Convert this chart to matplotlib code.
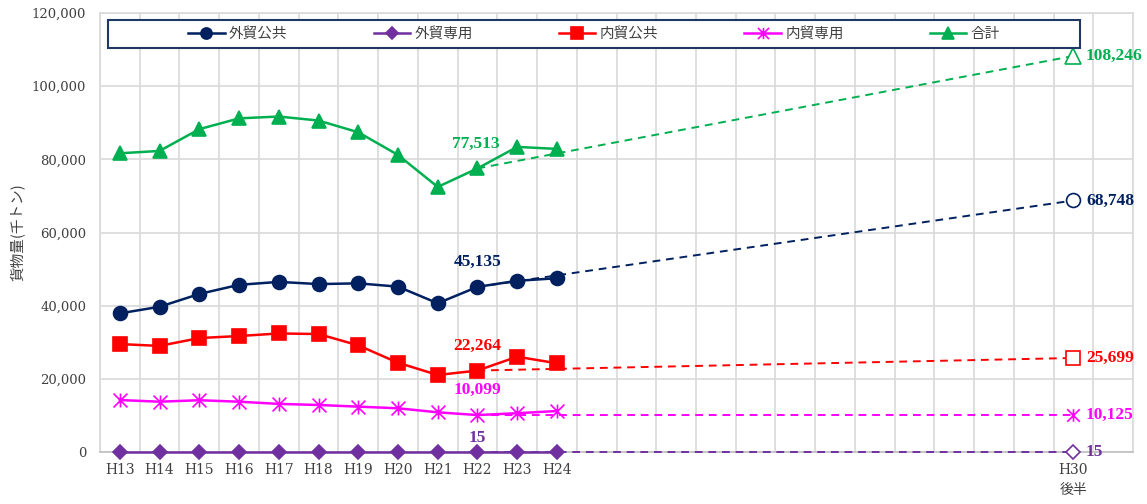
import matplotlib
matplotlib.use("Agg")
import matplotlib.pyplot as plt
from matplotlib.path import Path
from matplotlib.patches import Rectangle
from matplotlib.ticker import FuncFormatter, FixedLocator
from matplotlib.font_manager import FontProperties

# ---------------- data ----------------
periods = ['H13', 'H14', 'H15', 'H16', 'H17', 'H18', 'H19', 'H20', 'H21', 'H22', 'H23', 'H24'] \
          + [''] * 12 + ['H30\n後半', '']
years = ['H13', 'H14', 'H15', 'H16', 'H17', 'H18', 'H19', 'H20', 'H21', 'H22', 'H23', 'H24']
base_period = 'H22'
target_period = 'H30\n後半'

series_names = ['外貿公共', '外貿専用', '内貿公共', '内貿専用', '合計']
gaibo_kokyo = [37900, 39700, 43200, 45700, 46500, 45900, 46100, 45200, 40650, 45135, 46800, 47500]
gaibo_senyo = [15, 15, 15, 15, 15, 15, 15, 15, 15, 15, 15, 15]
naibo_kokyo = [29500, 29000, 31150, 31700, 32400, 32250, 29150, 24400, 21050, 22264, 26050, 24250]
naibo_senyo = [14200, 13750, 14150, 13750, 13150, 12850, 12400, 11950, 10850, 10099, 10600, 11200]
gokei = [81650, 82300, 88250, 91200, 91700, 90600, 87400, 81200, 72450, 77513, 83400, 82850]
target_values = [68748, 15, 25699, 10125, 108246]

colors = ['#002060', '#7030A0', '#FF0000', '#FF00FF', '#00B050']

# ---------------- style ----------------
plt.rcParams['font.family'] = ['DejaVu Serif', 'Noto Sans CJK JP']
star = Path([(0, -1), (0, 1), (-1, -1), (1, 1), (-1, 1), (1, -1)],
            [Path.MOVETO, Path.LINETO, Path.MOVETO, Path.LINETO, Path.MOVETO, Path.LINETO])
markers = ['o', 'D', 's', star, '^']
msizes = [10, 7.5, 10, 10, 10]
hollow_sizes = [10, 7.5, 10, 9, 11]
label_offsets = [(0, 18), (0, 10), (0, 18), (0, 18), (-1, 18)]

fig = plt.figure(figsize=(11.47, 5.04), dpi=100)
ax = fig.add_axes([100 / 1147, 1 - 452 / 504, 1033 / 1147, 439 / 504])

all_series = [gaibo_kokyo, gaibo_senyo, naibo_kokyo, naibo_senyo, gokei]
xs = [periods.index(y) for y in years]
bi = periods.index(base_period)
ti = periods.index(target_period)

label_font = FontProperties(family='Liberation Serif', weight='bold', size=12.5)

handles = []
for name, vals, c, m, ms, hs, off, tv in zip(series_names, all_series, colors, markers,
                                              msizes, hollow_sizes, label_offsets, target_values):
    bv = vals[years.index(base_period)]
    # projection line
    ax.plot([bi, ti], [bv, tv], color=c, lw=1.4, ls=(0, (4, 3)), zorder=3, clip_on=False)
    # actual series
    filled = m is not star
    h, = ax.plot(xs, vals, color=c, lw=1.8, marker=m, ms=ms,
                 mfc=c if filled else 'none', mec=c, mew=1.2, zorder=4, label=name,
                 clip_on=False)
    handles.append(h)
    # target marker (hollow)
    ax.plot([ti], [tv], ls='none', marker=m, ms=hs, mfc='white' if filled else 'none',
            mec=c, mew=1.2, zorder=5, clip_on=False)
    # labels
    ax.annotate(f'{bv:,}', (bi, bv), xytext=off, textcoords='offset points',
                ha='center', va='center', color=c, fontproperties=label_font, zorder=6)
    ax.annotate(f'{tv:,}', (ti, tv), xytext=(9, 0), textcoords='offset points',
                ha='left', va='center', color=c, fontproperties=label_font, zorder=6)

# axes
ax.set_xlim(-0.5, len(periods) - 0.5)
ax.set_ylim(0, 120000)
ax.set_yticks(range(0, 120001, 20000))
ax.yaxis.set_major_formatter(FuncFormatter(lambda v, p: f'{int(v):,}'))
ax.xaxis.set_major_locator(FixedLocator(range(len(periods))))
ax.set_xticklabels(periods)
for t in ax.get_xticklabels():
    t.set_linespacing(1.5)
ax.xaxis.set_minor_locator(FixedLocator([i - 0.5 for i in range(len(periods) + 1)]))
ax.grid(True, which='major', axis='y', color='#d9d9d9', lw=1.2)
ax.grid(True, which='minor', axis='x', color='#d9d9d9', lw=1.2)
ax.set_axisbelow(True)
ax.tick_params(axis='both', which='both', length=0)
ax.tick_params(axis='y', labelsize=9.5, labelcolor='#404040', pad=10)
ax.tick_params(axis='x', labelsize=10, labelcolor='#404040', pad=8)
for s in ax.spines.values():
    s.set_color('#d9d9d9')
    s.set_linewidth(1.2)
ax.spines['bottom'].set_color('#bfbfbf')

ax.set_ylabel('貨物量(千トン)', fontsize=10.5, color='#404040',
              family=['Noto Sans CJK JP', 'DejaVu Sans'], labelpad=5)

# legend box
ax.add_patch(Rectangle((8 / 1033, 404 / 439), 972 / 1033, 28 / 439, transform=ax.transAxes,
                       facecolor='white', edgecolor='#1f3864', lw=1.5, zorder=7))
leg = ax.legend(handles=handles, loc='center', bbox_to_anchor=(494 / 1033, 418 / 439),
                ncol=5, frameon=False, prop=FontProperties(family='Noto Sans CJK JP', size=10.5),
                handlelength=2.5, handletextpad=0.3, columnspacing=5.9, labelcolor='#404040',
                markerscale=0.8)
leg.set_zorder(8)

fig.savefig('out.png', dpi=100)
